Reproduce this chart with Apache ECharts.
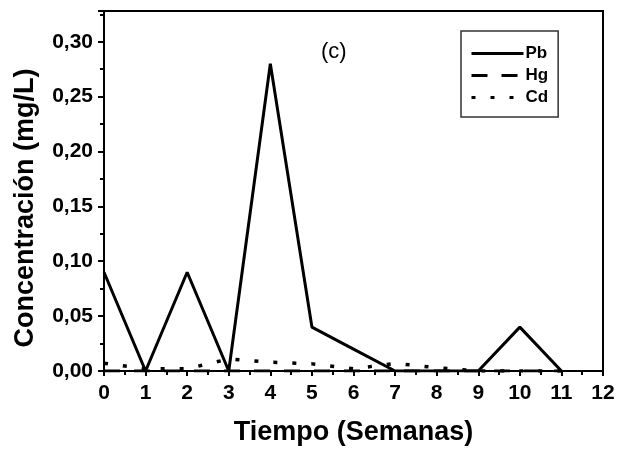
<!DOCTYPE html>
<html>
<head>
<meta charset="utf-8">
<script src="https://cdn.jsdelivr.net/npm/echarts@6/dist/echarts.min.js"></script>
<style>
html,body{margin:0;padding:0;background:#fff;}
#chart{width:619px;height:451px;}
</style>
</head>
<body>
<div id="chart"></div>
<script>
var weeks = [0, 1, 2, 3, 4, 5, 6, 7, 8, 9, 10, 11];
var pb = [0.09, 0, 0.09, 0, 0.28, 0.04, 0.02, 0, 0, 0, 0.04, 0];
var hg = [0, 0, 0, 0, 0, 0, 0, 0, 0, 0, 0, 0];
var cd = [0.007, 0.002, 0.002, 0.011, 0.008, 0.0065, 0.002, 0.007, 0.003, 0, 0, 0];
var seriesNames = ['Pb', 'Hg', 'Cd'];
var xTicks = [0, 1, 2, 3, 4, 5, 6, 7, 8, 9, 10, 11, 12];
var yTicks = [0, 0.05, 0.10, 0.15, 0.20, 0.25, 0.30];

function pairs(vals) { return weeks.map(function (w, i) { return [w, vals[i]]; }); }

var FONT = '"Liberation Sans", Arial, sans-serif';
var chart = echarts.init(document.getElementById('chart'), null, {renderer: 'canvas'});
chart.setOption({
  animation: false,
  backgroundColor: '#fff',
  grid: {left: 104, right: 16, top: 11, bottom: 79, show: true, borderColor: '#000', borderWidth: 2, backgroundColor: 'transparent'},
  title: {text: '(c)', left: 316, top: 36, textStyle: {fontFamily: FONT, fontSize: 22, fontWeight: 'normal', color: '#000'}},
  legend: {
    left: 461, top: 31, orient: 'vertical',
    data: seriesNames,
    borderColor: '#333', borderWidth: 1.5,
    padding: [14, 10, 11, 9],
    itemWidth: 52, itemHeight: 14, itemGap: 5,
    itemStyle: {opacity: 0},
    lineStyle: {width: 3},
    textStyle: {fontFamily: FONT, fontSize: 17, fontWeight: 'bold', color: '#000', padding: [0, 0, 0, -3]}
  },
  xAxis: {
    type: 'value', min: xTicks[0], max: xTicks[xTicks.length - 1], interval: 1,
    name: 'Tiempo (Semanas)', nameLocation: 'middle', nameGap: 48,
    nameTextStyle: {fontFamily: FONT, fontSize: 27, fontWeight: 'bold', color: '#000'},
    axisLine: {onZero: false, lineStyle: {color: '#000', width: 2}},
    axisTick: {inside: false, length: 5, lineStyle: {color: '#000', width: 2}},
    minorTick: {show: true, splitNumber: 2, length: 4, lineStyle: {color: '#000', width: 2}},
    splitLine: {show: false},
    axisLabel: {margin: 12, fontFamily: FONT, fontSize: 21, fontWeight: 'bold', color: '#000'}
  },
  yAxis: {
    type: 'value', min: 0, max: 0.328, interval: 0.05,
    name: 'Concentración (mg/L)', nameLocation: 'middle', nameGap: 65,
    nameTextStyle: {fontFamily: FONT, fontSize: 27, fontWeight: 'bold', color: '#000', padding: [0, 34, 0, 0]},
    axisLine: {onZero: false, lineStyle: {color: '#000', width: 2}},
    axisTick: {inside: false, length: 6, lineStyle: {color: '#000', width: 2}},
    minorTick: {show: true, splitNumber: 2, length: 4, lineStyle: {color: '#000', width: 2}},
    splitLine: {show: false},
    axisLabel: {
      margin: 11, fontFamily: FONT, fontSize: 21, fontWeight: 'bold', color: '#000',
      formatter: function (v) {
        for (var i = 0; i < yTicks.length; i++) {
          if (Math.abs(v - yTicks[i]) < 1e-6) return yTicks[i].toFixed(2).replace('.', ',');
        }
        return '';
      }
    }
  },
  series: [
    {name: seriesNames[2], type: 'line', data: pairs(cd), symbol: 'none', z: 2,
     lineStyle: {color: '#000', width: 3.5, type: [4, 15]}, itemStyle: {color: '#000'}},
    {name: seriesNames[1], type: 'line', data: pairs(hg), symbol: 'none', z: 3,
     lineStyle: {color: '#000', width: 3, type: [16, 14]}, itemStyle: {color: '#000'}},
    {name: seriesNames[0], type: 'line', data: pairs(pb), symbol: 'none', z: 4,
     lineStyle: {color: '#000', width: 3, type: 'solid'}, itemStyle: {color: '#000'}}
  ]
});
</script>
</body>
</html>
